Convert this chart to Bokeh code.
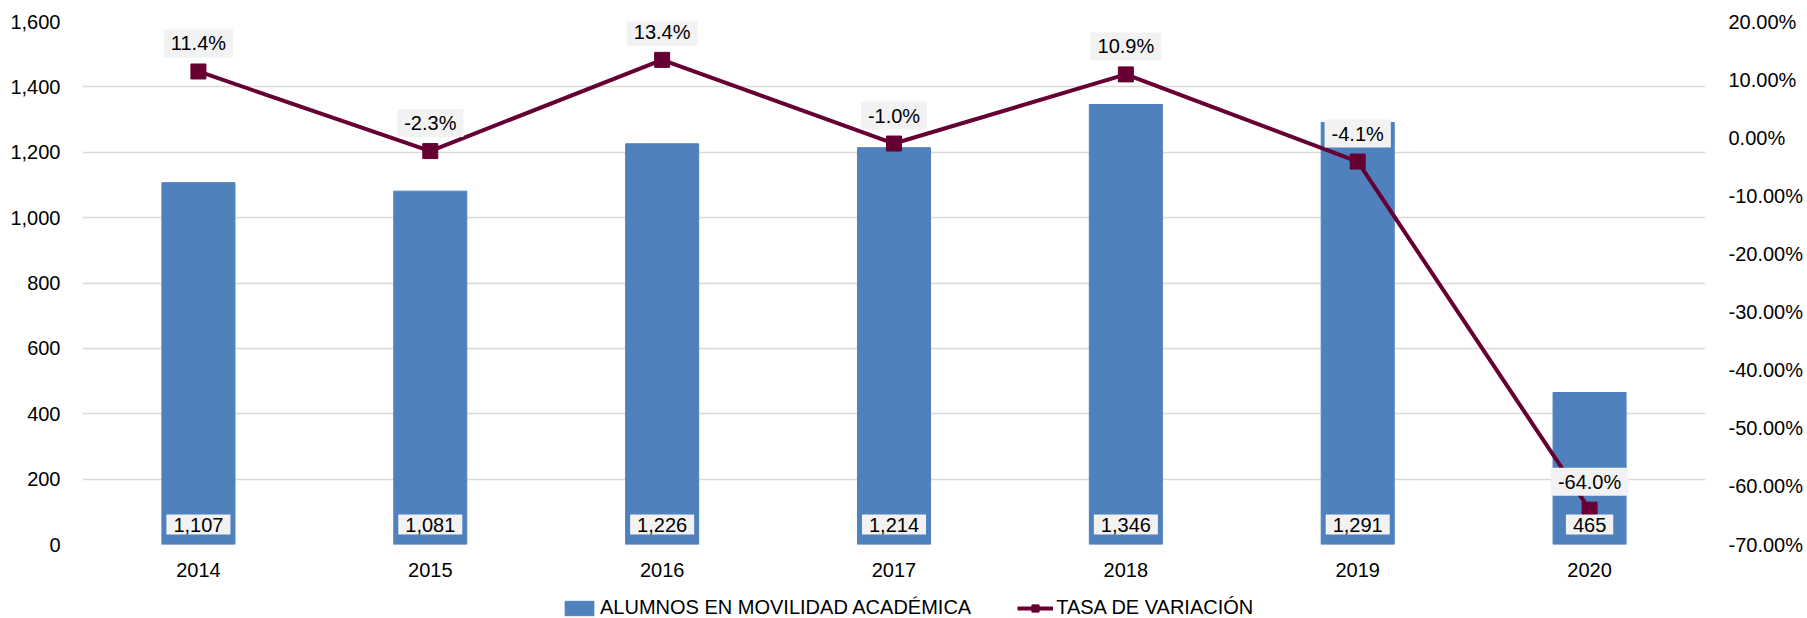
from bokeh.plotting import figure
from bokeh.layouts import column
from bokeh.models import (ColumnDataSource, Range1d, FactorRange, LinearAxis,
                          NumeralTickFormatter, PrintfTickFormatter, FixedTicker,
                          Legend, LegendItem)
from bokeh.embed import file_html
from bokeh.resources import INLINE
from bokeh.core.properties import value

years = ["2014", "2015", "2016", "2017", "2018", "2019", "2020"]
alumnos = [1107, 1081, 1226, 1214, 1346, 1291, 465]
tasa = [11.4, -2.3, 13.4, -1.0, 10.9, -4.1, -64.0]
left_ticks = [0, 200, 400, 600, 800, 1000, 1200, 1400, 1600]
right_ticks = [-70, -60, -50, -40, -30, -20, -10, 0, 10, 20]
series_names = ["ALUMNOS EN MOVILIDAD ACADÉMICA", "TASA DE VARIACIÓN"]

alumnos_labels = [f"{v:,}" for v in alumnos]
tasa_labels = [f"{v:.1f}%" for v in tasa]

FONT = "Liberation Sans"
BAR = "#4F81BD"
LINE = "#660033"
W = 1805

src = ColumnDataSource(dict(year=years, alumnos=alumnos, tasa=tasa,
                            alab=alumnos_labels, tlab=tasa_labels))

p = figure(width=W, height=580,
           x_range=FactorRange(*years, range_padding=0),
           y_range=Range1d(0, 1600),
           output_backend="svg", toolbar_location=None,
           min_border_left=82, min_border_right=98,
           min_border_top=21, min_border_bottom=36)
p.extra_y_ranges = {"pct": Range1d(-70, 20)}

p.outline_line_color = None
p.xgrid.grid_line_color = None
p.ygrid.grid_line_color = "#D9D9D9"
p.ygrid.grid_line_width = 1.5
p.ygrid.ticker = FixedTicker(ticks=left_ticks)

la = p.yaxis[0]
la.ticker = FixedTicker(ticks=left_ticks)
la.formatter = NumeralTickFormatter(format="0,0")
ba = p.xaxis[0]

raxis = LinearAxis(y_range_name="pct", ticker=FixedTicker(ticks=right_ticks),
                   formatter=PrintfTickFormatter(format="%.2f%%"))
p.add_layout(raxis, "right")

for ax, st in ((la, 16), (ba, 12), (raxis, 17)):
    ax.axis_line_color = None
    ax.major_tick_line_color = None
    ax.minor_tick_line_color = None
    ax.major_label_text_font = FONT
    ax.major_label_text_font_size = "20px"
    ax.major_label_text_color = "#000000"
    ax.major_label_standoff = st

bars = p.vbar(x="year", top="alumnos", width=0.315, source=src,
              fill_color=BAR, line_color=BAR)
ln = p.line(x="year", y="tasa", source=src, y_range_name="pct",
            line_color=LINE, line_width=4)
mk = p.scatter(x="year", y="tasa", source=src, y_range_name="pct",
               marker="square", size=15, fill_color=LINE, line_color=LINE)

p.text(x="year", y=0, text="alab", source=src, y_offset=-20,
       text_align="center", text_baseline="middle",
       text_font=value(FONT), text_font_size="20px", text_color="#000000",
       background_fill_color="#F2F2F2", padding=(7, 3))
p.text(x="year", y="tasa", text="tlab", source=src, y_range_name="pct",
       y_offset=-28, text_align="center", text_baseline="middle",
       text_font=value(FONT), text_font_size="20px", text_color="#000000",
       background_fill_color="#F2F2F2", padding=(7, 3))

# legend strip below the chart (its renderers use the same data, kept just out of view)
p2 = figure(width=W, height=37, x_axis_type=None, y_axis_type=None,
            x_range=Range1d(3000, 3100), y_range=Range1d(3000, 3100),
            output_backend="svg", toolbar_location=None,
            min_border_left=0, min_border_right=0,
            min_border_top=0, min_border_bottom=0)
p2.outline_line_color = None
p2.grid.visible = False
lb = p2.vbar(x="alumnos", top="alumnos", width=1, source=src,
             fill_color=BAR, line_color=BAR)
ll = p2.line(x="alumnos", y="alumnos", source=src, line_color=LINE, line_width=4)
lm = p2.scatter(x="alumnos", y="alumnos", source=src, marker="square", size=13,
                fill_color=LINE, line_color=LINE)

legend = Legend(items=[
    LegendItem(label=series_names[0], renderers=[lb]),
    LegendItem(label=series_names[1], renderers=[ll, lm]),
], orientation="horizontal", location=(479, -2),
    label_text_font=FONT, label_text_font_size="20px", label_text_color="#000000",
    glyph_width=36, glyph_height=18, label_height=20, label_standoff=3,
    spacing=46, padding=0, margin=0,
    border_line_alpha=0, background_fill_alpha=0)
p2.add_layout(legend, "center")

layout = column(p, p2, spacing=0)
open("out.html", "w").write(file_html(layout, INLINE))
